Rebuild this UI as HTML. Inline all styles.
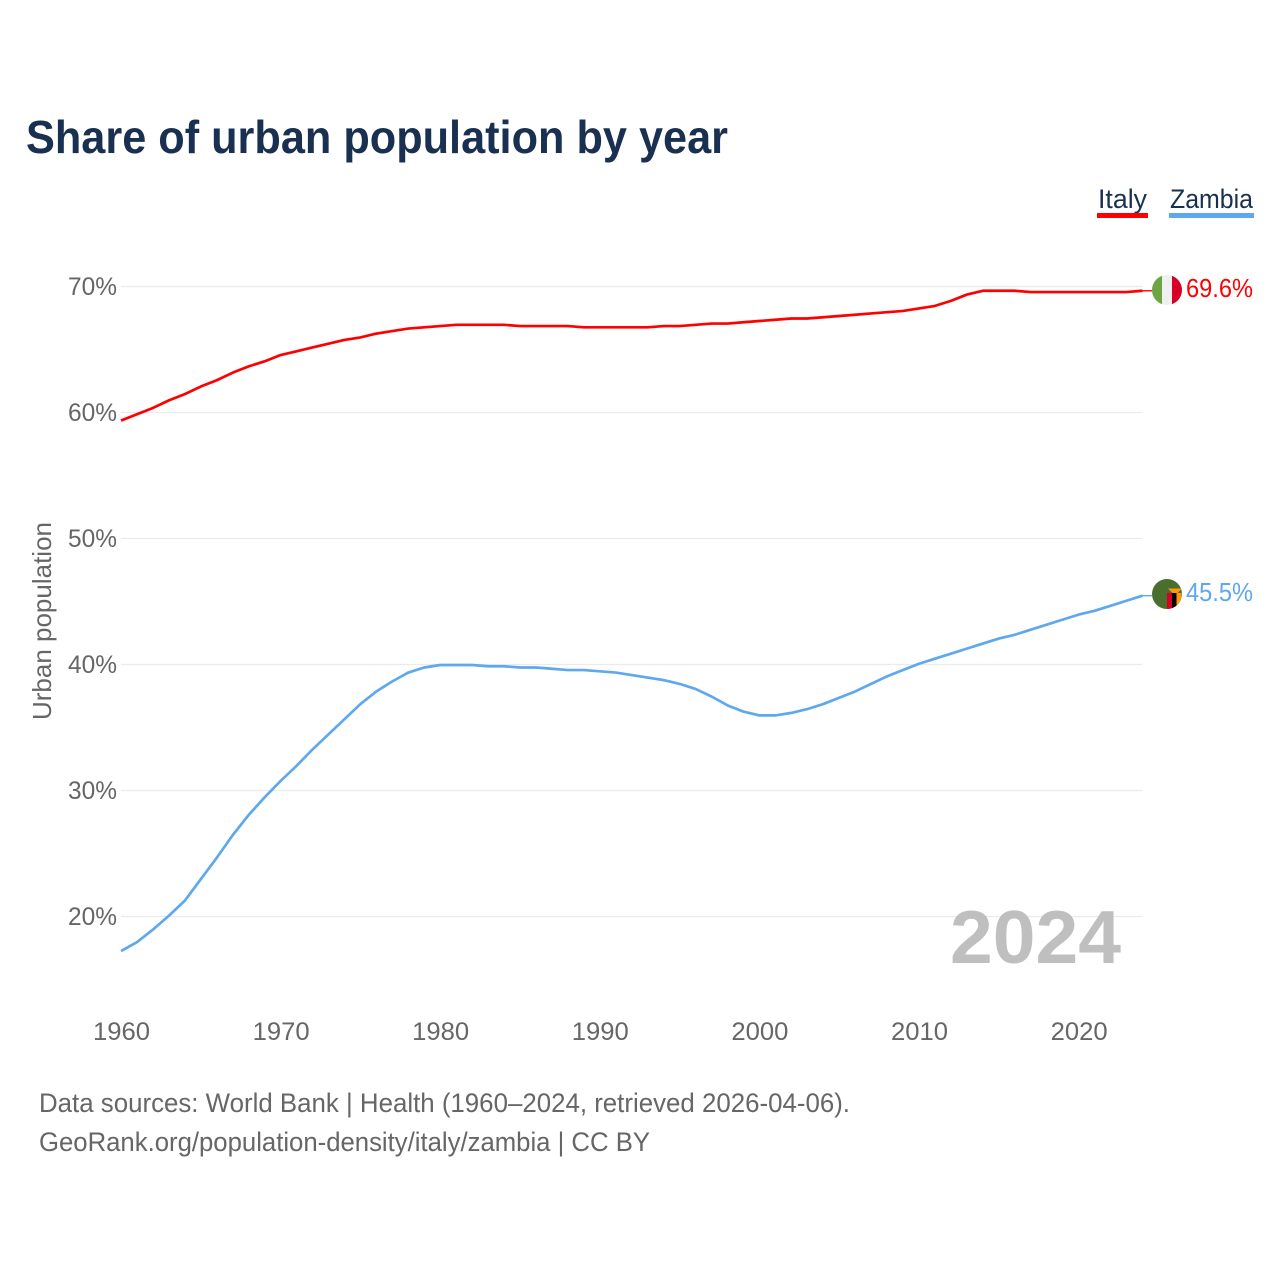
<!DOCTYPE html>
<html lang="en">
<head>
<meta charset="utf-8">
<title>Share of urban population by year</title>
<style>
html,body{margin:0;padding:0;background:#fff;width:1280px;height:1280px;overflow:hidden}
svg{display:block}
text{font-family:"Liberation Sans",sans-serif}
</style>
</head>
<body>
<svg id="chart" xmlns="http://www.w3.org/2000/svg" width="1280" height="1280" viewBox="0 0 1280 1280">
  <defs>
    <clipPath id="clip-italy"><circle cx="1167" cy="290" r="15"/></clipPath>
    <clipPath id="clip-zambia"><circle cx="1167" cy="594" r="15"/></clipPath>
  </defs>
  <text x="26" y="153" font-size="46" font-weight="700" fill="#1a3050" textLength="702" lengthAdjust="spacingAndGlyphs">Share of urban population by year</text>

  <g>
    <g>
      <text x="1098" y="208" font-size="27" fill="#1a3050" textLength="49" lengthAdjust="spacingAndGlyphs">Italy</text>
      <rect x="1097" y="213" width="51" height="5" fill="#ff0000"/>
    </g>
    <g>
      <text x="1170" y="208" font-size="27" fill="#1a3050" textLength="83" lengthAdjust="spacingAndGlyphs">Zambia</text>
      <rect x="1169" y="213" width="85" height="5" fill="#5fa8ee"/>
    </g>
  </g>

  <g id="grid"></g>
  <g id="y-ticks"></g>
  <g id="x-ticks"></g>

  <text transform="translate(51,621) rotate(-90)" text-anchor="middle" font-size="26" fill="#666666" textLength="198" lengthAdjust="spacingAndGlyphs">Urban population</text>

  <text x="950" y="963" font-size="75" font-weight="700" fill="#bfbfbf" textLength="171" lengthAdjust="spacingAndGlyphs">2024</text>

  <g id="series"></g>

  <g clip-path="url(#clip-italy)">
    <rect x="1152" y="275" width="30" height="30" fill="#f0f0f0"/>
    <rect x="1152" y="275" width="10" height="30" fill="#6da544"/>
    <rect x="1172" y="275" width="10" height="30" fill="#d80027"/>
  </g>
  <g clip-path="url(#clip-zambia)">
    <rect x="1152" y="579" width="30" height="30" fill="#496e2d"/>
    <rect x="1167" y="593" width="5" height="17" fill="#d80027"/>
    <rect x="1172" y="593" width="4.500" height="17" fill="#000000"/>
    <rect x="1176.500" y="593" width="5" height="17" fill="#ff9811"/>
    <path d="M1168 588.500h14l-4.500 4.500h-5z" fill="#ff9811"/>
  </g>

  <text id="value-italy" x="1186" y="297" font-size="26" fill="#ff0000" textLength="67" lengthAdjust="spacingAndGlyphs"></text>
  <text id="value-zambia" x="1186" y="601" font-size="26" fill="#5fa8ee" textLength="67" lengthAdjust="spacingAndGlyphs"></text>

  <text x="39" y="1112" font-size="27" fill="#666666" textLength="811" lengthAdjust="spacingAndGlyphs">Data sources: World Bank | Health (1960–2024, retrieved 2026-04-06).</text>
  <text x="39" y="1151" font-size="27" fill="#666666" textLength="611" lengthAdjust="spacingAndGlyphs">GeoRank.org/population-density/italy/zambia | CC BY</text>
</svg>
<script>
const years = [1960,1961,1962,1963,1964,1965,1966,1967,1968,1969,1970,1971,1972,1973,1974,1975,1976,1977,1978,1979,1980,1981,1982,1983,1984,1985,1986,1987,1988,1989,1990,1991,1992,1993,1994,1995,1996,1997,1998,1999,2000,2001,2002,2003,2004,2005,2006,2007,2008,2009,2010,2011,2012,2013,2014,2015,2016,2017,2018,2019,2020,2021,2022,2023,2024];
const italyValues = [59.4,59.9,60.4,61.0,61.5,62.1,62.6,63.2,63.7,64.1,64.6,64.9,65.2,65.5,65.8,66.0,66.3,66.5,66.7,66.8,66.9,67.0,67.0,67.0,67.0,66.9,66.9,66.9,66.9,66.8,66.8,66.8,66.8,66.8,66.9,66.9,67.0,67.1,67.1,67.2,67.3,67.4,67.5,67.5,67.6,67.7,67.8,67.9,68.0,68.1,68.3,68.5,68.9,69.4,69.7,69.7,69.7,69.6,69.6,69.6,69.6,69.6,69.6,69.6,69.7];
const zambiaValues = [17.3,18.0,19.0,20.1,21.3,23.0,24.7,26.5,28.1,29.5,30.8,32.0,33.3,34.5,35.7,36.9,37.9,38.7,39.4,39.8,40.0,40.0,40.0,39.9,39.9,39.8,39.8,39.7,39.6,39.6,39.5,39.4,39.2,39.0,38.8,38.5,38.1,37.5,36.8,36.3,36.0,36.0,36.2,36.5,36.9,37.4,37.9,38.5,39.1,39.6,40.1,40.5,40.9,41.3,41.7,42.1,42.4,42.8,43.2,43.6,44.0,44.3,44.7,45.1,45.5];
const yTickValues = [20,30,40,50,60,70];
const xTickValues = [1960,1970,1980,1990,2000,2010,2020];
const italyEndLabel = '69.6%';
const zambiaEndLabel = '45.5%';

const NS = 'http://www.w3.org/2000/svg';
function xScale(year){ return 121 + (year - 1960) * 15.96; }
function yScale(pct){ return 917 - (pct - 20) * 12.6; }

const gridGroup = document.getElementById('grid');
const yTickGroup = document.getElementById('y-ticks');
const xTickGroup = document.getElementById('x-ticks');
const seriesGroup = document.getElementById('series');

yTickValues.forEach(function(v){
  const line = document.createElementNS(NS, 'line');
  
  
  line.setAttribute('x1', xScale(1960));
  line.setAttribute('x2', xScale(2024));
  line.setAttribute('y1', yScale(v) - 0.5);
  line.setAttribute('y2', yScale(v) - 0.5);
  line.setAttribute('stroke', '#ebebeb');
  line.setAttribute('stroke-width', '1.3');
  gridGroup.appendChild(line);

  const label = document.createElementNS(NS, 'text');
  
  
  label.setAttribute('x', 117);
  label.setAttribute('y', yScale(v) + 8);
  label.setAttribute('text-anchor', 'end');
  label.setAttribute('font-size', '25');
  label.setAttribute('fill', '#666666');
  label.setAttribute('textLength', '49');
  label.setAttribute('lengthAdjust', 'spacingAndGlyphs');
  label.textContent = v + '%';
  yTickGroup.appendChild(label);
});

xTickValues.forEach(function(v){
  const label = document.createElementNS(NS, 'text');
  
  
  label.setAttribute('x', xScale(v) + 0.5);
  label.setAttribute('y', 1040);
  label.setAttribute('text-anchor', 'middle');
  label.setAttribute('font-size', '25');
  label.setAttribute('fill', '#666666');
  label.setAttribute('textLength', '57');
  label.setAttribute('lengthAdjust', 'spacingAndGlyphs');
  label.textContent = v;
  xTickGroup.appendChild(label);
});

function buildPoints(values){
  return values.map(function(v, i){
    return xScale(years[i]).toFixed(2) + ',' + yScale(v).toFixed(2);
  }).join(' ');
}

const italyLine = document.createElementNS(NS, 'polyline');


italyLine.setAttribute('points', buildPoints(italyValues));
italyLine.setAttribute('fill', 'none');
italyLine.setAttribute('stroke', '#ff0000');
italyLine.setAttribute('stroke-width', '2.7');
italyLine.setAttribute('stroke-linejoin', 'round');
seriesGroup.appendChild(italyLine);

const zambiaLine = document.createElementNS(NS, 'polyline');


zambiaLine.setAttribute('points', buildPoints(zambiaValues));
zambiaLine.setAttribute('fill', 'none');
zambiaLine.setAttribute('stroke', '#5fa8ee');
zambiaLine.setAttribute('stroke-width', '2.7');
zambiaLine.setAttribute('stroke-linejoin', 'round');
seriesGroup.appendChild(zambiaLine);

const italyLast = italyValues[italyValues.length - 1];
const zambiaLast = zambiaValues[zambiaValues.length - 1];

const italyLeader = document.createElementNS(NS, 'line');


italyLeader.setAttribute('x1', xScale(2024));
italyLeader.setAttribute('x2', 1152);
italyLeader.setAttribute('y1', yScale(italyLast));
italyLeader.setAttribute('y2', yScale(italyLast));
italyLeader.setAttribute('stroke', '#ff0000');
italyLeader.setAttribute('stroke-width', '1.4');
seriesGroup.appendChild(italyLeader);

const zambiaLeader = document.createElementNS(NS, 'line');


zambiaLeader.setAttribute('x1', xScale(2024));
zambiaLeader.setAttribute('x2', 1152);
zambiaLeader.setAttribute('y1', yScale(zambiaLast));
zambiaLeader.setAttribute('y2', yScale(zambiaLast));
zambiaLeader.setAttribute('stroke', '#5fa8ee');
zambiaLeader.setAttribute('stroke-width', '1.4');
seriesGroup.appendChild(zambiaLeader);

document.getElementById('value-italy').textContent = italyEndLabel;
document.getElementById('value-zambia').textContent = zambiaEndLabel;
</script>
</body>
</html>
